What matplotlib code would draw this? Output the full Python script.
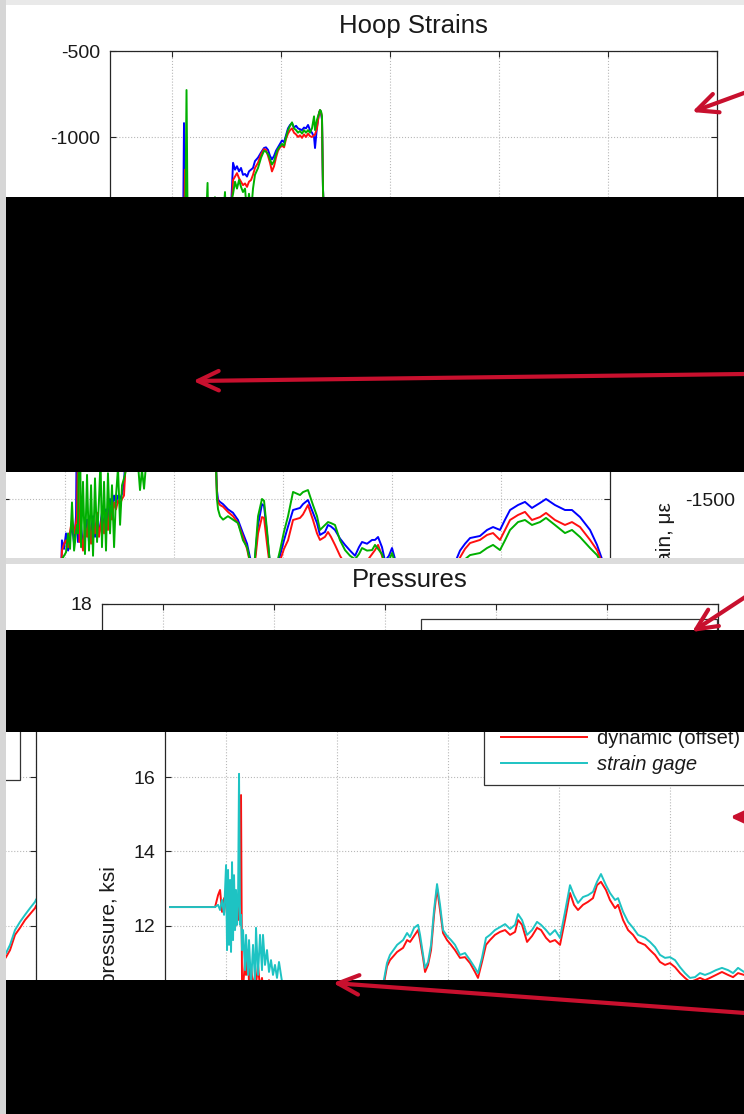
import matplotlib
matplotlib.use("Agg")
import matplotlib.pyplot as plt
from matplotlib.patches import Rectangle, FancyArrowPatch, ArrowStyle
from matplotlib.lines import Line2D
from matplotlib.legend_handler import HandlerLine2D

# ------------------------------------------------------------------ data
# time axis: one unit per vertical grid line
time_ticks = [0, 1, 2, 3, 4, 5]

# Hoop strains (microstrain)
hoop_t = [-0.560, -0.037, -0.028, -0.009, 0.009, 0.028, 0.046, 0.064, 0.083, 0.101,
          0.110, 0.119, 0.133, 0.147, 0.165, 0.183, 0.202, 0.220, 0.239, 0.257,
          0.275, 0.294, 0.312, 0.326, 0.339, 0.358, 0.376, 0.394, 0.413, 0.431,
          0.450, 0.468, 0.486, 0.505, 0.523, 0.541, 0.560, 0.578, 0.596, 0.615,
          0.633, 0.651, 0.670, 0.688, 0.706, 0.725, 0.743, 0.761, 0.789, 0.817,
          0.844, 0.862, 0.881, 0.899, 0.917, 0.936, 0.954, 0.972, 0.991, 1.009,
          1.028, 1.046, 1.064, 1.083, 1.101, 1.119, 1.138, 1.156, 1.174, 1.193,
          1.211, 1.229, 1.248, 1.266, 1.284, 1.303, 1.312, 1.330, 1.349, 1.358,
          1.367, 1.376, 1.385, 1.394, 1.404, 1.422, 1.450, 1.495, 1.541, 1.587,
          1.633, 1.670, 1.697, 1.734, 1.771, 1.807, 1.826, 1.853, 1.881, 1.927,
          1.972, 2.009, 2.046, 2.092, 2.156, 2.183, 2.229, 2.275, 2.312, 2.339,
          2.385, 2.413, 2.440, 2.477, 2.523, 2.569, 2.615, 2.661, 2.697, 2.725,
          2.771, 2.817, 2.844, 2.872, 2.908, 2.936, 2.972, 3.000, 3.028, 3.101,
          3.284, 3.468, 3.578, 3.624, 3.670, 3.716, 3.807, 3.872, 3.927, 3.991,
          4.037, 4.083, 4.156, 4.220, 4.284, 4.358, 4.413, 4.495, 4.587, 4.651,
          4.725, 4.817, 4.881, 4.927, 4.972, 5.000]
hoop_blue = [-1950, -1950, -1740, -1790, -1700, -1800, -1720, -1650, -1760, -1600,
             -919, -1750, -1700, -1650, -1780, -1700, -1620, -1750, -1680, -1600,
             -1720, -1650, -1700, -1640, -1580, -1660, -1560, -1620, -1500, -1580,
             -1480, -1520, -1480, -1500, -1470, -1420, -1150, -1190, -1170, -1200,
             -1180, -1220, -1215, -1230, -1200, -1190, -1180, -1140, -1120, -1090,
             -1064, -1060, -1075, -1110, -1130, -1110, -1080, -1060, -1040, -1020,
             -1030, -990, -950, -930, -920, -945, -935, -950, -955, -960,
             -945, -950, -930, -960, -975, -1000, -1064, -940, -860, -845,
             -860, -900, -1300, -1450, -1505, -1517, -1530, -1560, -1580, -1622,
             -1700, -1760, -1840, -1900, -1650, -1530, -1540, -1700, -1880, -1920,
             -1830, -1740, -1660, -1564, -1552, -1530, -1506, -1581, -1640, -1709,
             -1692, -1651, -1660, -1680, -1730, -1767, -1800, -1830, -1780, -1750,
             -1760, -1738, -1738, -1721, -1780, -1860, -1830, -1785, -1850, -1920,
             -1950, -1930, -1870, -1800, -1760, -1727, -1715, -1680, -1663, -1680,
             -1620, -1564, -1535, -1517, -1552, -1523, -1500, -1535, -1564, -1564,
             -1605, -1680, -1767, -1850, -1950, -2000]
hoop_red = [-1950, -1950, -1800, -1760, -1740, -1780, -1690, -1620, -1700, -1640,
            -1600, -1190, -1750, -1700, -1800, -1650, -1720, -1600, -1760, -1640,
            -1700, -1580, -1720, -1660, -1600, -1700, -1580, -1680, -1540, -1620,
            -1520, -1560, -1510, -1530, -1500, -1480, -1250, -1230, -1210, -1240,
            -1260, -1280, -1270, -1290, -1260, -1250, -1220, -1180, -1150, -1100,
            -1070, -1075, -1110, -1150, -1200, -1170, -1120, -1080, -1060, -1050,
            -1060, -1010, -980, -960, -950, -975, -985, -1000, -990, -1005,
            -985, -1000, -980, -995, -1000, -990, -985, -950, -860, -845,
            -855, -890, -1300, -1480, -1520, -1535, -1545, -1575, -1600, -1640,
            -1720, -1790, -1870, -1920, -1700, -1605, -1610, -1760, -1900, -1950,
            -1860, -1790, -1740, -1622, -1610, -1590, -1535, -1622, -1700, -1738,
            -1720, -1692, -1720, -1767, -1830, -1880, -1900, -1930, -1880, -1850,
            -1860, -1820, -1797, -1767, -1830, -1900, -1880, -1850, -1900, -1960,
            -1990, -1970, -1920, -1840, -1790, -1756, -1738, -1709, -1698, -1738,
            -1680, -1622, -1593, -1575, -1622, -1605, -1581, -1622, -1651, -1634,
            -1663, -1738, -1797, -1870, -1950, -2000]
hoop_green = [-1950, -1950, -1850, -1830, -1810, -1700, -1790, -1520, -1800, -1700,
              -1650, -1700, -727, -1780, -1400, -1820, -1360, -1800, -1420, -1830,
              -1380, -1750, -1500, -1267, -1780, -1400, -1800, -1350, -1700, -1420,
              -1780, -1480, -1320, -1650, -1420, -1380, -1330, -1260, -1300, -1250,
              -1290, -1320, -1300, -1448, -1330, -1440, -1300, -1220, -1180, -1120,
              -1080, -1085, -1100, -1130, -1160, -1140, -1100, -1070, -1055, -1040,
              -1050, -1000, -960, -935, -915, -950, -960, -975, -965, -980,
              -960, -975, -960, -975, -950, -880, -960, -900, -860, -843,
              -850, -880, -1300, -1500, -1560, -1600, -1620, -1600, -1620, -1640,
              -1740, -1780, -1860, -1910, -1600, -1500, -1510, -1680, -1880, -1920,
              -1800, -1690, -1600, -1459, -1477, -1460, -1448, -1535, -1600, -1680,
              -1651, -1634, -1640, -1651, -1740, -1797, -1830, -1850, -1820, -1785,
              -1800, -1797, -1767, -1790, -1820, -1880, -1860, -1814, -1870, -1950,
              -1990, -1990, -1950, -1880, -1850, -1826, -1814, -1785, -1767, -1797,
              -1740, -1680, -1634, -1622, -1651, -1634, -1610, -1651, -1698, -1680,
              -1721, -1785, -1826, -1880, -1950, -2000]
strain_yticks = [-500, -1000, -1500, -2000, -2500, -3000]

# Pressures (ksi)
press_t = [-0.505, -0.099, -0.072, -0.054, -0.036, -0.018, 0.000, 0.009, 0.018, 0.027,
           0.036, 0.045, 0.054, 0.063, 0.072, 0.081, 0.090, 0.099, 0.108, 0.117,
           0.126, 0.135, 0.144, 0.153, 0.171, 0.180, 0.198, 0.207, 0.225, 0.243,
           0.261, 0.270, 0.288, 0.306, 0.324, 0.333, 0.351, 0.369, 0.387, 0.405,
           0.423, 0.441, 0.459, 0.477, 0.495, 0.514, 0.577, 0.937, 1.297, 1.414,
           1.450, 1.477, 1.541, 1.595, 1.631, 1.658, 1.694, 1.730, 1.748, 1.775,
           1.793, 1.820, 1.847, 1.874, 1.901, 1.928, 1.955, 1.991, 2.027, 2.063,
           2.108, 2.153, 2.198, 2.243, 2.270, 2.306, 2.342, 2.378, 2.423, 2.468,
           2.514, 2.559, 2.604, 2.631, 2.667, 2.712, 2.757, 2.802, 2.838, 2.883,
           2.919, 2.964, 3.009, 3.054, 3.099, 3.135, 3.171, 3.216, 3.261, 3.306,
           3.342, 3.378, 3.423, 3.459, 3.505, 3.532, 3.577, 3.622, 3.667, 3.712,
           3.775, 3.820, 3.865, 3.910, 3.955, 4.000, 4.045, 4.090, 4.135, 4.180,
           4.225, 4.270, 4.315, 4.360, 4.414, 4.468, 4.523, 4.568, 4.613, 4.667,
           5.000]
press_gage = [12.50, 12.50, 12.56, 12.42, 12.69, 12.29, 13.63, 11.34, 13.50, 11.48,
              13.23, 11.29, 13.71, 11.61, 13.36, 11.88, 12.96, 12.02, 12.56, 16.09,
              12.02, 12.29, 11.34, 11.88, 10.80, 11.75, 10.67, 11.61, 10.40, 11.48,
              10.53, 11.94, 10.67, 11.75, 10.80, 11.75, 10.94, 11.34, 10.75, 11.07,
              10.67, 10.94, 10.59, 11.02, 10.67, 10.30, 10.00, 9.80, 9.90, 10.40,
              10.99, 11.21, 11.48, 11.61, 11.80, 11.69, 11.94, 12.02, 11.75, 11.21,
              10.86, 11.02, 11.48, 12.42, 13.12, 12.56, 11.88, 11.72, 11.61, 11.48,
              11.21, 11.26, 11.07, 10.86, 10.72, 11.13, 11.67, 11.75, 11.88, 11.96,
              12.04, 11.91, 12.02, 12.31, 12.15, 11.75, 11.88, 12.10, 12.02, 11.88,
              11.75, 11.88, 11.67, 12.37, 13.09, 12.82, 12.61, 12.77, 12.82, 12.91,
              13.18, 13.39, 13.09, 12.88, 12.69, 12.74, 12.37, 12.10, 11.94, 11.75,
              11.67, 11.56, 11.42, 11.21, 11.13, 11.15, 11.07, 10.88, 10.72, 10.59,
              10.61, 10.72, 10.67, 10.72, 10.80, 10.86, 10.80, 10.72, 10.86, 10.75,
              10.80]
press_dynamic = [12.50, 12.50, 12.82, 12.96, 12.37, 12.74, 12.56, 12.29, 12.69, 12.37,
                 12.61, 12.15, 12.56, 12.74, 12.29, 12.56, 12.02, 12.69, 12.15, 12.42,
                 12.69, 15.52, 10.40, 10.30, 11.07, 10.67, 11.34, 10.40, 10.94, 10.30,
                 10.67, 10.40, 10.94, 10.30, 10.59, 10.30, 10.40, 10.30, 10.53, 10.30,
                 10.40, 10.30, 10.30, 10.30, 10.20, 10.20, 9.90, 9.70, 9.80, 10.30,
                 10.90, 11.07, 11.29, 11.40, 11.61, 11.56, 11.72, 11.88, 11.61, 11.13,
                 10.75, 10.94, 11.34, 12.29, 13.01, 12.42, 11.80, 11.61, 11.48, 11.34,
                 11.13, 11.15, 10.99, 10.75, 10.59, 11.02, 11.48, 11.61, 11.75, 11.83,
                 11.88, 11.75, 11.83, 12.15, 12.02, 11.56, 11.72, 11.94, 11.88, 11.67,
                 11.56, 11.61, 11.48, 12.15, 12.88, 12.56, 12.42, 12.56, 12.64, 12.74,
                 13.09, 13.18, 12.96, 12.69, 12.47, 12.56, 12.15, 11.88, 11.75, 11.56,
                 11.48, 11.34, 11.21, 11.02, 10.94, 10.99, 10.88, 10.72, 10.59, 10.48,
                 10.53, 10.59, 10.53, 10.59, 10.67, 10.75, 10.67, 10.61, 10.72, 10.67,
                 10.70]
press_yticks = [6, 8, 10, 12, 14, 16, 18]
legend_labels = ["dynamic (offset)", "strain gage"]

# neighbouring pressure chart (only its right end is in view)
left_t = [4.700, 4.730, 4.766, 4.811, 4.856, 4.901, 4.946, 4.991, 5.000]
left_gage = [11.15, 11.26, 11.48, 11.88, 12.10, 12.29, 12.47, 12.64, 12.70]
left_dynamic = [11.02, 11.15, 11.34, 11.75, 11.94, 12.15, 12.31, 12.47, 12.53]

# ------------------------------------------------------------------ layout
W, H = 744, 1114
plt.rcParams["font.family"] = ["Liberation Sans", "DejaVu Sans"]
plt.rcParams["axes.unicode_minus"] = False

BLUE, RED, GREEN, CYAN = "#0000ff", "#ff1010", "#00b000", "#1ec3c3"
SPINE, TXT, GRID = "#262626", "#1a1a1a", "#b8b8b8"
ARROW = "#c8102e"

fig = plt.figure(figsize=(W / 100, H / 100), dpi=100)
fig.patch.set_facecolor("white")


def px_axes(l, t, r, b):
    return fig.add_axes([l / W, 1 - b / H, (r - l) / W, (b - t) / H])


def fpt(x, y):
    return (x / W, 1 - y / H)


def style(ax, xlim, ylim, yticks, hide=()):
    ax.set_xticks(time_ticks)
    ax.set_yticks(yticks)
    ax.set_xlim(xlim)
    ax.set_ylim(ylim)
    ax.grid(True, linestyle=":", color=GRID, linewidth=0.8)
    ax.set_axisbelow(True)
    for s in ax.spines.values():
        s.set_color(SPINE)
        s.set_linewidth(0.9)
    for s in hide:
        ax.spines[s].set_visible(False)
    ax.tick_params(direction="in", length=4, width=0.8, color=SPINE,
                   labelcolor=TXT, labelsize=14, pad=7,
                   top="top" not in hide, bottom="bottom" not in hide,
                   left=True, right=True, labelbottom=False)


def plot_hoop(ax):
    ax.plot(hoop_t, hoop_blue, color=BLUE, lw=1.4)
    ax.plot(hoop_t, hoop_red, color=RED, lw=1.4)
    ax.plot(hoop_t, hoop_green, color=GREEN, lw=1.4)


def plot_press(ax, t, dyn, gage):
    ax.plot(t, dyn, color=RED, lw=1.4, label=legend_labels[0])
    ax.plot(t, gage, color=CYAN, lw=1.4, label=legend_labels[1])


def add_legend(ax, left_px, y_px, width_px, loc):
    x0, y0 = fpt(left_px, y_px)
    leg = ax.legend(loc=loc, bbox_to_anchor=(x0, y0, width_px / W, 0),
                    bbox_transform=fig.transFigure, mode="expand",
                    borderaxespad=0, fontsize=14.5, handlelength=4.55,
                    handletextpad=0.5, borderpad=0.55, labelspacing=0.35,
                    fancybox=False, framealpha=1, edgecolor="#333333",
                    handler_map={Line2D: HandlerLine2D(xpad=0.3)})
    leg.get_frame().set_linewidth(0.9)
    leg.get_texts()[1].set_style("italic")
    for tx in leg.get_texts():
        tx.set_color(TXT)
    return leg


PX_PER_STRAIN = 86 / 500.0
PX_PER_KSI = 37.1
XLIM_A = (-0.569, 5.0)
XLIM_B = (-0.55, 5.0)

# --- Hoop strains, upper view
axA1 = px_axes(110, 51, 717, 197)
plot_hoop(axA1)
style(axA1, XLIM_A, (-500 - (197 - 51) / PX_PER_STRAIN, -500), strain_yticks, hide=("bottom",))
axA1.set_title("Hoop Strains", fontsize=18.5, pad=13, color=TXT)

# --- Hoop strains, lower view (shifted)
ylim_mid = (-1500 - (558 - 499) / PX_PER_STRAIN, -1500 + (499 - 472) / PX_PER_STRAIN)
axA2 = px_axes(3, 472, 610, 558)
plot_hoop(axA2)
style(axA2, XLIM_A, ylim_mid, strain_yticks, hide=("top", "bottom"))

# --- neighbouring strain chart (only its axis labels show)
axD = px_axes(750, 472, 1357, 558)
axD.set_yticks([-1500])
axD.set_xticks([])
axD.set_xlim(XLIM_A)
axD.set_ylim(ylim_mid)
for s in axD.spines.values():
    s.set_visible(False)
axD.tick_params(left=False, labelsize=14, pad=7, labelcolor=TXT)
d_label = fig.text(*fpt(675, 544), "strain, \u03bc\u03b5", rotation=90,
                   ha="right", va="center", fontsize=15, color=TXT)
d_label.set_clip_path(Rectangle(fpt(6, 558), (744 - 6) / W, (558 - 472) / H,
                                transform=fig.transFigure))

# --- Pressures, upper view
axB1 = px_axes(102, 604, 718, 630)
plot_press(axB1, press_t, press_dynamic, press_gage)
style(axB1, XLIM_B, (18 - (630 - 604) / PX_PER_KSI, 18), press_yticks, hide=("bottom",))
axB1.set_title("Pressures", fontsize=18.5, pad=12.5, color=TXT)
add_legend(axB1, 421, 619, 296, "upper left")

# --- Pressures, lower view (shifted)
axB2 = px_axes(165, 703, 781, 703 + 12 * PX_PER_KSI)
plot_press(axB2, press_t, press_dynamic, press_gage)
style(axB2, XLIM_B, (6, 18), press_yticks)
axB2.set_ylabel("pressure, ksi", fontsize=15, color=TXT)
axB2.yaxis.set_label_coords(*fpt(119, 925), transform=fig.transFigure)
add_legend(axB2, 484, 718, 296, "upper left")

# --- neighbouring pressure chart at far left
axC = px_axes(-580, 703, 36, 703 + 12 * PX_PER_KSI)
plot_press(axC, left_t, left_dynamic, left_gage)
style(axC, XLIM_B, (6, 18), press_yticks)
add_legend(axC, 20 - 296, 780, 296, "lower left")

# ------------------------------------------------------------------ slide overlays


def px_rect(l, t, r, b, color, z=5):
    fig.add_artist(Rectangle(fpt(l, b), (r - l) / W, (b - t) / H,
                             transform=fig.transFigure, facecolor=color,
                             edgecolor="none", zorder=z))


px_rect(0, 0, 744, 5, "#e9e9e9")
px_rect(0, 558, 744, 564, "#dcdcdc")
px_rect(0, 0, 6, 1114, "#d6d6d6")
px_rect(6, 197, 744, 472, "black")
px_rect(6, 630, 744, 732, "black")
px_rect(6, 980, 744, 1114, "black")


def arrow(tail, tip):
    fig.add_artist(FancyArrowPatch(
        posA=fpt(*tail), posB=fpt(*tip), transform=fig.transFigure,
        arrowstyle=ArrowStyle("->", head_length=15, head_width=7),
        mutation_scale=1, lw=3, color=ARROW, shrinkA=0, shrinkB=0,
        joinstyle="round", capstyle="round", zorder=8))


arrow((800, 72.5), (692, 112))
arrow((800, 373.3), (193, 381))
arrow((800, 561), (692, 632))
arrow((800, 817), (730, 817))
arrow((800, 1017), (333, 983))

fig.savefig("out.png", dpi=100, facecolor="white")
